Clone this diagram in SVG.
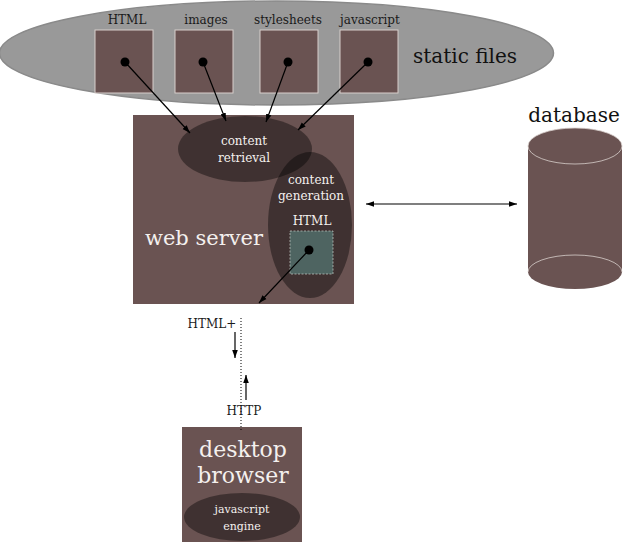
<svg xmlns="http://www.w3.org/2000/svg" width="625" height="545" viewBox="0 0 625 545">
<defs>
<marker id="ah" viewBox="0 0 10 10" refX="10" refY="5" markerWidth="8" markerHeight="8" orient="auto-start-reverse" markerUnits="userSpaceOnUse">
<path d="M0,1.5 L10,5 L0,8.5 z" fill="#000"/>
</marker>
</defs>
<style>
text{font-family:"DejaVu Serif","Liberation Serif",serif;text-anchor:middle}
.lbl{font-size:12px;fill:#1a1a1a}
.wt{fill:#f4f0ee}
.box{fill:#6a5352}
.file{fill:#6a5352;stroke:#d8cfcc;stroke-width:1}
.dark{fill:#000;fill-opacity:0.4}
.dot{fill:#000}
.con{stroke:#000;stroke-width:1.2;fill:none;marker-end:url(#ah)}
</style>
<g id="static-files">
<ellipse cx="276.5" cy="53" rx="277" ry="52" fill="#999" stroke="#8a8a8a" stroke-width="1.5"/>
<text x="465" y="63" style="font-size:20px;fill:#111">static files</text>
</g>
<g id="file-html">
<text class="lbl" x="127" y="24">HTML</text>
<rect class="file" x="95" y="30" width="58" height="63"/>
<circle class="dot" cx="125" cy="62" r="4.5"/>
</g>
<g id="file-images">
<text class="lbl" x="206" y="24">images</text>
<rect class="file" x="175" y="30" width="58" height="63"/>
<circle class="dot" cx="203" cy="62" r="4.5"/>
</g>
<g id="file-stylesheets">
<text class="lbl" x="288" y="24">stylesheets</text>
<rect class="file" x="260" y="30" width="58" height="63"/>
<circle class="dot" cx="288" cy="62" r="4.5"/>
</g>
<g id="file-javascript">
<text class="lbl" x="370" y="24">javascript</text>
<rect class="file" x="340" y="30" width="58" height="63"/>
<circle class="dot" cx="368" cy="62" r="4.5"/>
</g>
<g id="web-server">
<rect class="box" x="133" y="115" width="221" height="189"/>
<text class="wt" x="204" y="245" style="font-size:21px">web server</text>
</g>
<g id="content-retrieval">
<ellipse class="dark" cx="245" cy="149" rx="67" ry="33"/>
<text class="wt" x="244" y="145" style="font-size:12px">content</text>
<text class="wt" x="244" y="162" style="font-size:12px">retrieval</text>
</g>
<g id="content-generation">
<ellipse class="dark" cx="310" cy="225" rx="42" ry="73"/>
<text class="wt" x="311" y="184" style="font-size:12px">content</text>
<text class="wt" x="311" y="200" style="font-size:12px">generation</text>
<text class="wt" x="312" y="225" style="font-size:12px">HTML</text>
<rect x="290" y="231" width="43" height="43" fill="#4e6461" stroke="#b8bcb8" stroke-width="0.8" stroke-dasharray="2,1.5"/>
<circle class="dot" cx="309" cy="250" r="4.5"/>
</g>
<g id="database">
<path d="M528,146 L528,272 A47,17 0 0 0 622,272 L622,146 A47,18 0 0 0 528,146 z" fill="#6a5352"/>
<ellipse cx="575" cy="146" rx="47" ry="18" fill="none" stroke="#d8cfcc" stroke-width="0.8"/>
<path d="M528,272 A47,17 0 0 1 622,272" fill="none" stroke="#d8cfcc" stroke-width="0.8"/>
<text x="574" y="122" style="font-size:20px;fill:#111">database</text>
</g>
<g id="desktop-browser">
<rect class="box" x="182" y="427" width="120" height="115"/>
<text class="wt" x="243" y="457" style="font-size:22px">desktop</text>
<text class="wt" x="243" y="483" style="font-size:22px">browser</text>
<ellipse class="dark" cx="242" cy="517" rx="58" ry="24"/>
<text class="wt" x="242" y="513" style="font-size:11px">javascript</text>
<text class="wt" x="242" y="530" style="font-size:11px">engine</text>
</g>
<g id="connectors">
<line class="con" x1="125" y1="62" x2="190" y2="133"/>
<line class="con" x1="203" y1="62" x2="226" y2="121"/>
<line class="con" x1="288" y1="62" x2="266" y2="122"/>
<line class="con" x1="368" y1="62" x2="298" y2="130"/>
<line class="con" x1="309" y1="250" x2="259" y2="303"/>
<line class="con" x1="366" y1="204" x2="517" y2="204" style="marker-start:url(#ah)"/>
<line x1="241" y1="318" x2="241" y2="430" stroke="#000" stroke-width="1" stroke-dasharray="1,2"/>
<line class="con" x1="235" y1="332" x2="235" y2="358"/>
<line class="con" x1="246" y1="400" x2="246" y2="375"/>
<text class="lbl" x="212" y="328">HTML+</text>
<text class="lbl" x="244" y="415">HTTP</text>
</g>
</svg>
